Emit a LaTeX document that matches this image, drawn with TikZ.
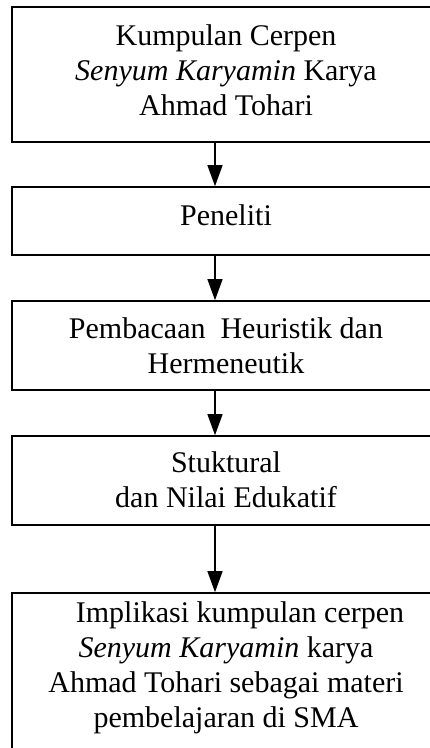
\documentclass[tikz,border=0pt]{standalone}
\usepackage{fontspec}
\setmainfont{Liberation Serif}
\usetikzlibrary{arrows.meta}
\begin{document}
\begin{tikzpicture}[x=1pt,y=-1pt,
  box/.style={draw, line width=1.6pt, inner sep=0, minimum width=428pt},
  txt/.style={font=\fontsize{30}{35}\selectfont, align=center, anchor=base, inner sep=0},
  arr/.style={-{Triangle[width=15pt,length=21pt]}, line width=1.3pt}]
\useasboundingbox (0,0) rectangle (430,748);
\clip (0,0) rectangle (430,748);
\fill[white] (0,0) rectangle (430,748);
% boxes
\node[box, minimum height=135pt] (b1) at (226,74.5) {};
\node[box, minimum height=68pt]  (b2) at (226,221) {};
\node[box, minimum height=89pt]  (b3) at (226,345.5) {};
\node[box, minimum height=89pt]  (b4) at (226,480.5) {};
\node[box, minimum height=187pt] (b5) at (226,686.5) {};
% texts (anchored at the baseline of the last line)
\node[txt] (t1) at (226,115) {Kumpulan Cerpen\\\textit{Senyum Karyamin} Karya\\Ahmad Tohari};
\node[txt] (t2) at (226,225) {Peneliti};
\node[txt] (t3) at (226,373) {Pembacaan\ \ Heuristik dan\\Hermeneutik};
\node[txt] (t4) at (226,507) {Stuktural\\dan Nilai Edukatif};
\node[txt] (t5) at (226,727) {\hspace*{28pt}Implikasi kumpulan cerpen\\\textit{Senyum Karyamin} karya\\Ahmad Tohari sebagai materi\\pembelajaran di SMA};
% arrows
\draw[arr] ([xshift=-11pt]b1.south) -- ([xshift=-11pt]b2.north);
\draw[arr] ([xshift=-11pt]b2.south) -- ([xshift=-11pt]b3.north);
\draw[arr] ([xshift=-11pt]b3.south) -- ([xshift=-11pt]b4.north);
\draw[arr] ([xshift=-11pt]b4.south) -- ([xshift=-11pt]b5.north);
\end{tikzpicture}
\end{document}
